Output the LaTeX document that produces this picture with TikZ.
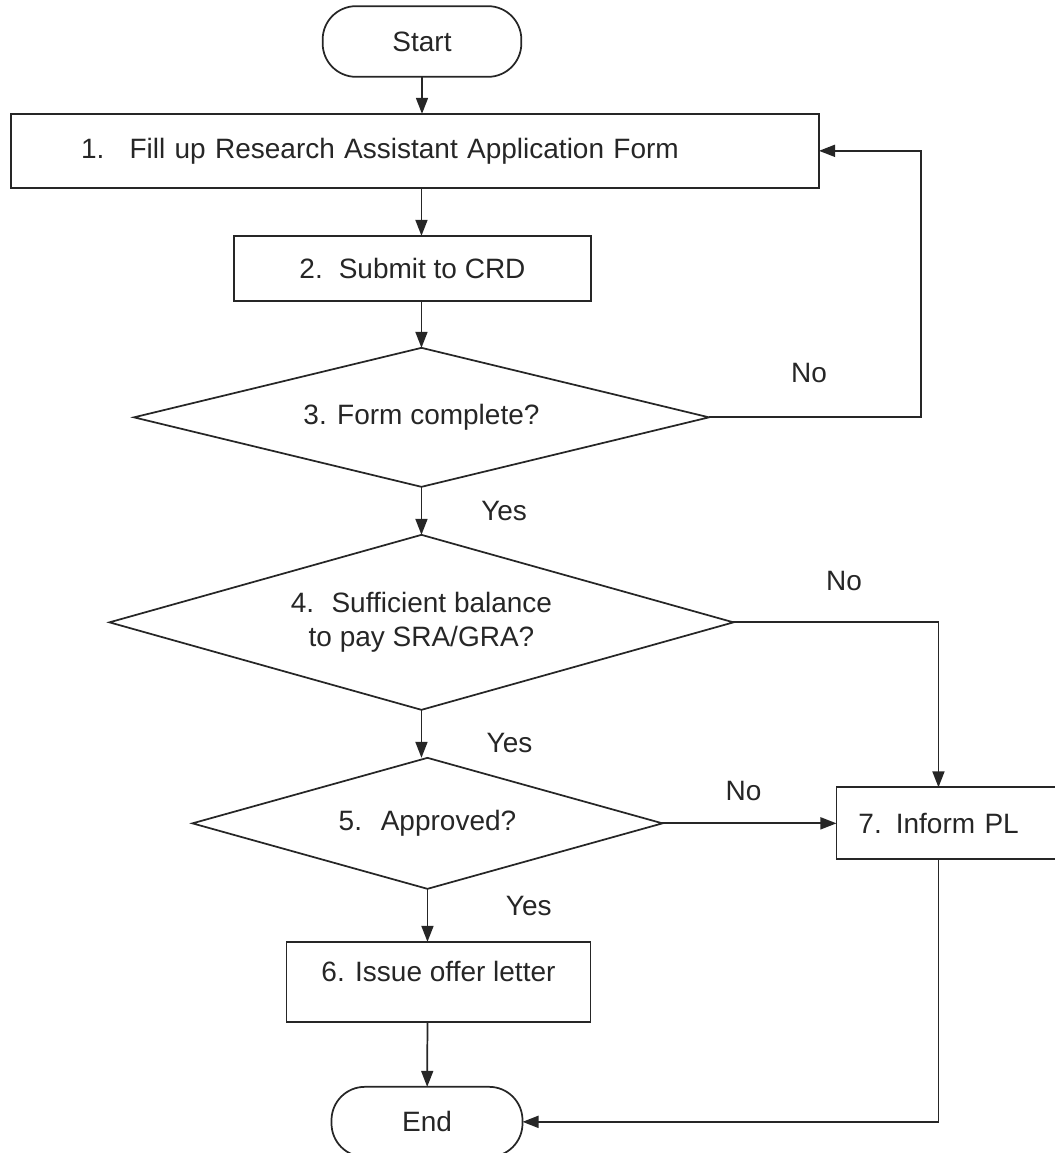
\documentclass[tikz,border=0pt]{standalone}
\usepackage{fontspec}
\setmainfont{Liberation Sans}
\usetikzlibrary{arrows.meta,shapes.geometric,positioning}
\tikzset{%
  base/.style={draw=black!85,line width=1.3pt,outer sep=0pt,text=black!85,font=\fontsize{21pt}{25.5pt}\selectfont},
  terminal/.style={base,rectangle,rounded corners=25pt},
  stepbox/.style={base,rectangle},
  decision/.style={base,diamond,inner sep=0pt,align=center},
  flow/.style={draw=black!85,line width=1.3pt,-{Triangle[length=12pt,width=9pt]}},
  answer/.style={text=black!85,font=\fontsize{21pt}{25.5pt}\selectfont}%
}

\begin{document}
\begin{tikzpicture}[x=0.75pt,y=-0.75pt]
    \useasboundingbox (0,0) rectangle (1054,1153);

    \node (start) [terminal, minimum width=149pt, minimum height=53pt] at (422,41.5) {Start};
    \node (fill_form) [stepbox, below=27.75pt of start, xshift=-5.25pt, minimum height=55.5pt, text width=501pt, inner xsep=52.5pt, align=left] {1.\hspace{0.4em} Fill up Research Assistant Application Form};
    \node (submit) [stepbox, below=36pt of fill_form, xshift=-1.9pt, minimum width=267.75pt, minimum height=48.75pt] {2.\hspace{0.2em} Submit to CRD};
    \node (complete) [decision, below=35.25pt of submit, xshift=6.75pt, minimum width=431.25pt, minimum height=104.25pt, aspect=4.14] {3. Form complete?};
    \node (balance) [decision, below=36pt of complete, minimum width=468pt, minimum height=131.25pt, aspect=3.57] {4.\hspace{0.25em} Sufficient balance\\to pay SRA/GRA?};
    \node (approved) [decision, below=36pt of balance, xshift=4.5pt, minimum width=352.5pt, minimum height=98.25pt, aspect=3.59] {5.\hspace{0.3em} Approved?};
    \node (offer) [stepbox, below=39.75pt of approved, xshift=8.25pt, minimum width=228pt, minimum height=60pt, text height=16pt, text depth=16pt] {6. Issue offer letter};
    \node (finish) [terminal, below=48.75pt of offer, xshift=-8.6pt, minimum width=143.25pt, minimum height=52.5pt] {End};
    \node (inform) [stepbox, right=130.5pt of approved, minimum height=54pt, text width=132pt, inner xsep=16.5pt, align=left] {7. Inform PL};
    \coordinate [right=159pt of complete.east] (loop_back);

    \draw [flow] (start) -- (start |- fill_form.north);
    \draw [flow] (complete |- fill_form.south) -- (complete |- submit.north);
    \draw [flow] (complete |- submit.south) -- (complete.north);
    \draw [flow] (complete) -- node[answer, xshift=62pt] {Yes} (balance);
    \draw [flow] (balance) -- node[answer, xshift=66pt, yshift=-6.75pt] {Yes} (balance |- approved.north);
    \draw [flow] (approved) -- node[answer, xshift=76pt, yshift=7pt] {Yes} (approved |- offer.north);
    \draw [flow] (approved |- offer.south) -- (finish);
    \draw [flow] (complete.east) -- node[answer, yshift=33pt, xshift=-4.5pt] {No} (loop_back) |- (fill_form.east);
    \draw [flow] (balance.east) -| node[answer, pos=0.25, yshift=31pt, xshift=6pt] {No} ([xshift=-6pt]inform.north);
    \draw [flow] (approved) -- node[answer, yshift=24pt, xshift=-4.5pt] {No} (inform);
    \draw [flow] ([xshift=-6pt]inform.south) |- (finish);
\end{tikzpicture}
\end{document}
